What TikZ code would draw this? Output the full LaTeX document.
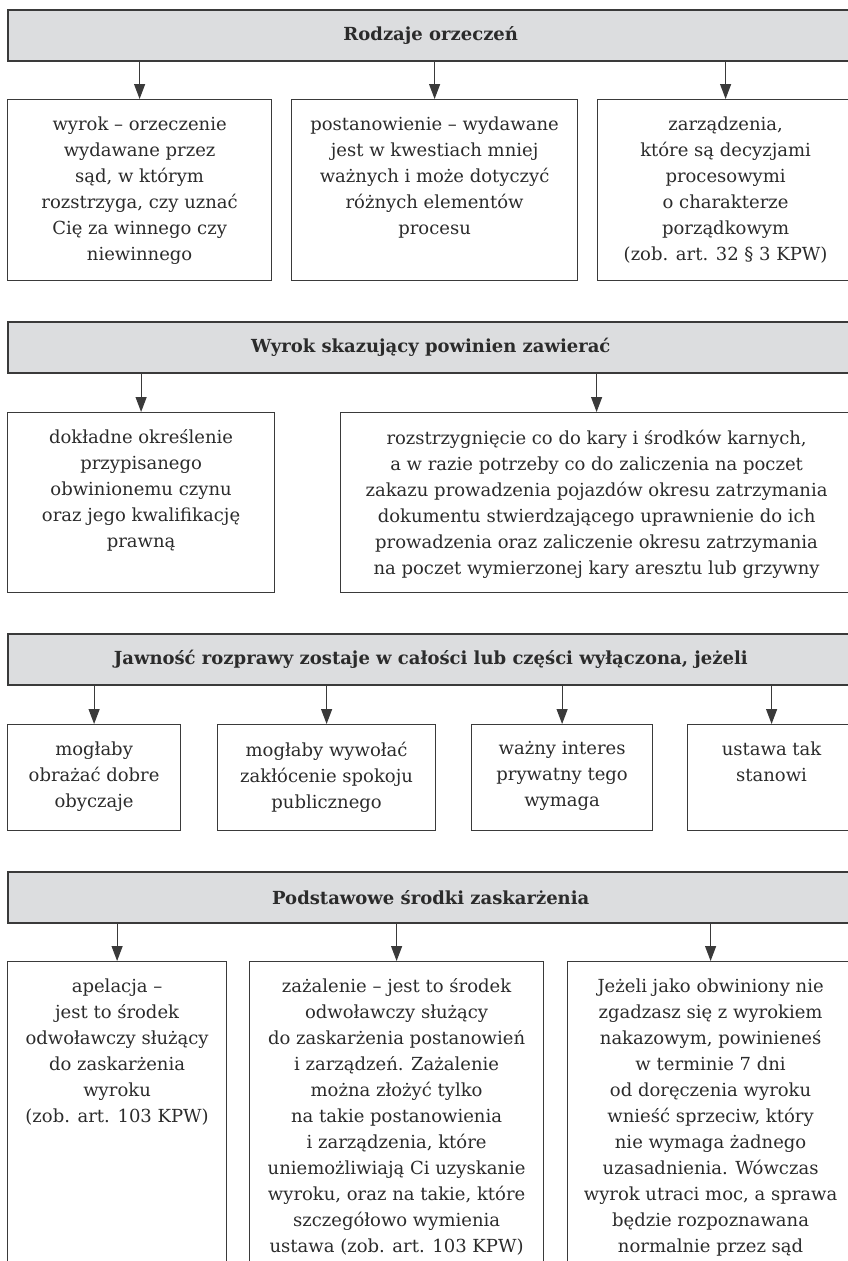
\documentclass[tikz,border=0pt]{standalone}
\usepackage{fontspec}
\setmainfont{DejaVu Serif}
\usetikzlibrary{arrows.meta}
\definecolor{hdrgray}{HTML}{DCDDDF}
\definecolor{linegray}{HTML}{3A3A3A}
\definecolor{txtgray}{HTML}{2B2B2B}
% text of a box: set at the top, lines centred
\newcommand{\celltext}[3]{\parbox[c][#2][t]{#1}{\centering\vspace*{17pt}#3}}

\begin{document}
\begin{tikzpicture}[x=1pt,y=-1pt,
  hdr/.style={draw=linegray, fill=hdrgray, line width=1.5pt, minimum width=846pt,
    minimum height=51pt, anchor=north west, inner sep=0pt, text=txtgray,
    font=\fontsize{18}{26}\selectfont\bfseries},
  cell/.style={draw=linegray, line width=1.2pt, anchor=north west, inner sep=0pt,
    text=txtgray, font=\fontsize{18}{26}\selectfont},
  arr/.style={draw=linegray, line width=1.2pt, -{Triangle[width=11pt,length=15pt]}}]
\useasboundingbox (0,0) rectangle (848,1261);
\clip (0,0) rectangle (848,1261);

% Rodzaje orzeczen
\node[hdr] (rod) at (7,9) {Rodzaje orzeczeń};
\node[cell] (rodA) at (7,99) {\celltext{264pt}{181pt}{wyrok – orzeczenie\\ wydawane przez\\ sąd, w którym\\ rozstrzyga, czy uznać\\ Cię za winnego czy\\ niewinnego}};
\node[cell] (rodB) at (291,99) {\celltext{286pt}{181pt}{postanowienie – wydawane\\ jest w kwestiach mniej\\ ważnych i może dotyczyć\\ różnych elementów\\ procesu}};
\node[cell] (rodC) at (597,99) {\celltext{256pt}{181pt}{zarządzenia,\\ które są decyzjami\\ procesowymi\\ o charakterze\\ porządkowym\\ (zob. art. 32 § 3 KPW)}};
\draw[arr] (rod.south -| rodA.north) -- (rodA.north);
\draw[arr] (rod.south -| rodB.north) -- (rodB.north);
\draw[arr] (rod.south -| rodC.north) -- (rodC.north);

% Wyrok skazujacy
\node[hdr] (skaz) at (7,321) {Wyrok skazujący powinien zawierać};
\node[cell] (skazA) at (7,412) {\celltext{267pt}{180pt}{dokładne określenie\\ przypisanego\\ obwinionemu czynu\\ oraz jego kwalifikację\\ prawną}};
\node[cell] (skazB) at (340,412) {\celltext{512pt}{180pt}{rozstrzygnięcie co do kary i środków karnych,\\ a w razie potrzeby co do zaliczenia na poczet\\ zakazu prowadzenia pojazdów okresu zatrzymania\\ dokumentu stwierdzającego uprawnienie do ich\\ prowadzenia oraz zaliczenie okresu zatrzymania\\ na poczet wymierzonej kary aresztu lub grzywny}};
\draw[arr] (skaz.south -| skazA.north) -- (skazA.north);
\draw[arr] (skaz.south -| skazB.north) -- (skazB.north);

% Jawnosc rozprawy
\node[hdr] (jaw) at (7,633) {Jawność rozprawy zostaje w całości lub części wyłączona, jeżeli};
\node[cell] (jawA) at (7,724) {\celltext{173pt}{106pt}{mogłaby\\ obrażać dobre\\ obyczaje}};
\node[cell] (jawB) at (217,724) {\celltext{218pt}{106pt}{mogłaby wywołać\\ zakłócenie spokoju\\ publicznego}};
\node[cell] (jawC) at (471,724) {\celltext{181pt}{106pt}{ważny interes\\ prywatny tego\\ wymaga}};
\node[cell] (jawD) at (687,724) {\celltext{168pt}{106pt}{ustawa tak\\ stanowi}};
\draw[arr] (jaw.south -| jawA.north) -- (jawA.north);
\draw[arr] (jaw.south -| jawB.north) -- (jawB.north);
\draw[arr] (jaw.south -| jawC.north) -- (jawC.north);
\draw[arr] (jaw.south -| jawD.north) -- (jawD.north);

% Srodki zaskarzenia
\node[hdr] (zask) at (7,871) {Podstawowe środki zaskarżenia};
\node[cell] (zaskA) at (7,961) {\celltext{219pt}{330pt}{apelacja –\\ jest to środek\\ odwoławczy służący\\ do zaskarżenia\\ wyroku\\ (zob. art. 103 KPW)}};
\node[cell] (zaskB) at (249,961) {\celltext{294pt}{330pt}{zażalenie – jest to środek\\ odwoławczy służący\\ do zaskarżenia postanowień\\ i zarządzeń. Zażalenie\\ można złożyć tylko\\ na takie postanowienia\\ i zarządzenia, które\\ uniemożliwiają Ci uzyskanie\\ wyroku, oraz na takie, które\\ szczegółowo wymienia\\ ustawa (zob. art. 103 KPW)}};
\node[cell] (zaskC) at (567,961) {\celltext{286pt}{330pt}{Jeżeli jako obwiniony nie\\ zgadzasz się z wyrokiem\\ nakazowym, powinieneś\\ w terminie 7 dni\\ od doręczenia wyroku\\ wnieść sprzeciw, który\\ nie wymaga żadnego\\ uzasadnienia. Wówczas\\ wyrok utraci moc, a sprawa\\ będzie rozpoznawana\\ normalnie przez sąd}};
\draw[arr] (zask.south -| zaskA.north) -- (zaskA.north);
\draw[arr] (zask.south -| zaskB.north) -- (zaskB.north);
\draw[arr] (zask.south -| zaskC.north) -- (zaskC.north);
\end{tikzpicture}
\end{document}
